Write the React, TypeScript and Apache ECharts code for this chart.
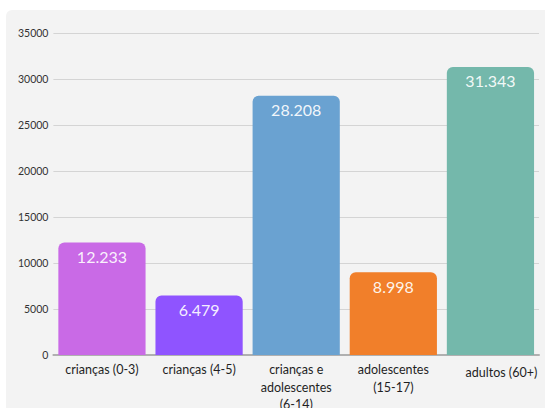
import React, { useEffect, useRef } from "react";
import * as echarts from "echarts";

const categories = [
  "crianças (0-3)",
  "crianças (4-5)",
  "crianças e\nadolescentes\n(6-14)",
  "adolescentes\n(15-17)",
  "adultos (60+)",
];
const values = [12233, 6479, 28208, 8998, 31343];
const barColors = ["#c96ae6", "#8f54ff", "#6aa2d1", "#f17f2a", "#74b8ab"];
const yTicks = { min: 0, max: 35000, interval: 5000 };

const fmt = (v: number) => String(v).replace(/\B(?=(\d{3})+(?!\d))/g, ".");

export default function App() {
  const ref = useRef<HTMLDivElement>(null);
  useEffect(() => {
    if (!ref.current) return;
    const chart = echarts.init(ref.current, undefined, { renderer: "svg" });
    const font = "Lato, 'Noto Sans', sans-serif";
    chart.setOption({
      animation: false,
      backgroundColor: "#ffffff",
      graphic: [
        {
          type: "rect",
          z: -10,
          silent: true,
          shape: { x: 6, y: 10, width: 560, height: 420, r: 6 },
          style: { fill: "#f3f3f3" },
        },
      ],
      grid: {
        left: 53.4,
        right: 6,
        top: 33.3,
        bottom: 53,
        containLabel: false,
        outerBoundsMode: "none",
      },
      xAxis: {
        type: "category",
        data: categories.map((c, i) =>
          i === 4
            ? { value: c, textStyle: { padding: [3, 0, 0, 22] } }
            : c
        ),
        axisTick: { show: false },
        axisLine: { show: true, lineStyle: { color: "#b0b0b0", width: 2 } },
        axisLabel: {
          interval: 0,
          margin: 6,
          color: "#1f1f1f",
          fontSize: 12.5,
          lineHeight: 17.5,
          fontFamily: font,
        },
      },
      yAxis: {
        type: "value",
        min: yTicks.min,
        max: yTicks.max,
        interval: yTicks.interval,
        axisLine: { show: false },
        axisTick: { show: false },
        axisLabel: {
          color: "#333333",
          fontSize: 10.5,
          fontFamily: font,
          margin: 5,
          formatter: (v: number) => String(v),
        },
        splitLine: { lineStyle: { color: "#d4d4d4", width: 1 } },
      },
      series: [
        {
          type: "bar",
          data: values.map((v, i) => ({ value: v, itemStyle: { color: barColors[i] } })),
          barCategoryGap: "10.2%",
          itemStyle: { borderRadius: [6, 6, 0, 0] },
          label: {
            show: true,
            position: "insideTop",
            distance: 6,
            color: "rgba(255,255,255,0.92)",
            fontSize: 16,
            fontFamily: font,
            formatter: (p: any) => fmt(p.value),
          },
        },
      ],
    });
    return () => chart.dispose();
  }, []);
  return (
    <div
      ref={ref}
      style={{ position: "fixed", left: 0, top: 0, width: 545, height: 408 }}
    />
  );
}
